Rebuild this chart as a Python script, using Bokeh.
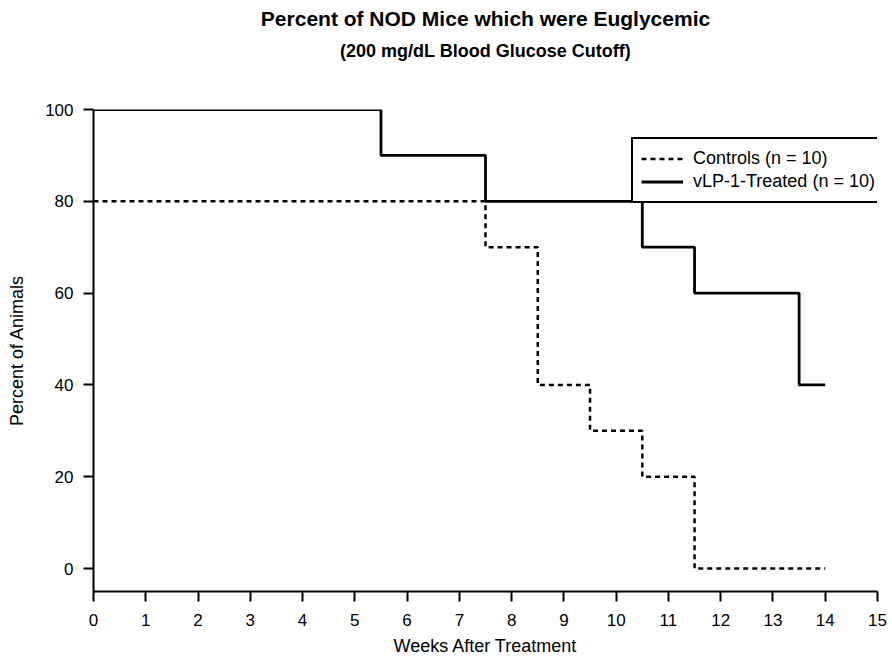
from bokeh.plotting import figure
from bokeh.models import Range1d, FixedTicker, Legend, LegendItem, Title, LinearAxis
from bokeh.embed import file_html
from bokeh.resources import INLINE

# Data (Kaplan-Meier style step curves)
weeks_treated = [0, 5.5, 7.5, 10.5, 11.5, 13.5, 14]
pct_treated = [100, 90, 80, 70, 60, 40, 40]
weeks_controls = [0, 7.5, 8.5, 9.5, 10.5, 11.5, 14]
pct_controls = [80, 70, 40, 30, 20, 0, 0]

x_ticks = list(range(0, 16))
y_ticks = [0, 20, 40, 60, 80, 100]

title_main = "Percent of NOD Mice which were Euglycemic"
title_sub = "(200 mg/dL Blood Glucose Cutoff)"
legend_controls = "Controls (n = 10)"
legend_treated = "vLP-1-Treated (n = 10)"

FONT = "Liberation Sans"

p = figure(width=888, height=661, output_backend="svg", toolbar_location=None,
           title=None,
           x_range=Range1d(0, 15), y_range=Range1d(-5, 100),
           min_border_left=93, min_border_right=11, min_border_top=0,
           min_border_bottom=70)
p.outline_line_color = None
p.xgrid.visible = False
p.ygrid.visible = False

r_ctrl = p.step(weeks_controls, pct_controls, mode="after", line_color="black",
                line_width=2.5, line_dash="5 4")
r_trt = p.step(weeks_treated, pct_treated, mode="after", line_color="black",
               line_width=2.8)

for ax in (p.xaxis[0], p.yaxis[0]):
    ax.axis_line_color = "black"
    ax.axis_line_width = 2
    ax.major_tick_line_color = "black"
    ax.major_tick_line_width = 2
    ax.major_tick_out = 10
    ax.major_tick_in = 0
    ax.minor_tick_line_color = None
    ax.major_label_text_font = FONT
    ax.major_label_text_font_size = "17px"
    ax.major_label_text_color = "black"
    ax.axis_label_text_font = FONT
    ax.axis_label_text_font_size = "18px"
    ax.axis_label_text_font_style = "normal"
    ax.axis_label_text_color = "black"

p.xaxis[0].ticker = FixedTicker(ticks=x_ticks)
p.yaxis[0].ticker = FixedTicker(ticks=y_ticks)
p.xaxis[0].axis_label = "Weeks After Treatment"
p.yaxis[0].axis_label = "Percent of Animals"
p.xaxis[0].major_label_standoff = 12
p.xaxis[0].axis_label_standoff = 7
p.yaxis[0].major_label_standoff = 10
p.yaxis[0].axis_label_standoff = 15

legend = Legend(items=[LegendItem(label=legend_controls, renderers=[r_ctrl]),
                       LegendItem(label=legend_treated, renderers=[r_trt])],
                location=(538, 388))
legend.border_line_color = "black"
legend.border_line_width = 2
legend.border_line_alpha = 1
legend.background_fill_alpha = 1
legend.label_text_font = FONT
legend.label_text_font_size = "18px"
legend.label_text_color = "black"
legend.glyph_width = 42
legend.label_standoff = 10
legend.padding = 8
legend.spacing = 0
legend.label_height = 23
legend.glyph_height = 23
legend.margin = 0
p.add_layout(legend, "center")

# invisible (white) spacer between the frame and the subtitle
spacer = LinearAxis(ticker=FixedTicker(ticks=[0]), axis_line_color=None,
                    major_tick_line_color="white", major_tick_line_width=1,
                    minor_tick_line_color=None,
                    major_tick_out=44, major_tick_in=0, minor_tick_out=0,
                    major_label_standoff=0, major_label_overrides={0: ""},
                    major_label_text_font_size="1px", major_label_text_alpha=0,
                    axis_label=None)
p.add_layout(spacer, "above")

p.add_layout(Title(text=title_sub, align="center", text_font=FONT,
                   text_font_size="18px", text_font_style="bold",
                   text_color="black", standoff=10), "above")
p.add_layout(Title(text=title_main, align="center", text_font=FONT,
                   text_font_size="21px", text_font_style="bold",
                   text_color="black", standoff=8), "above")

open("out.html", "w").write(file_html(p, INLINE))
